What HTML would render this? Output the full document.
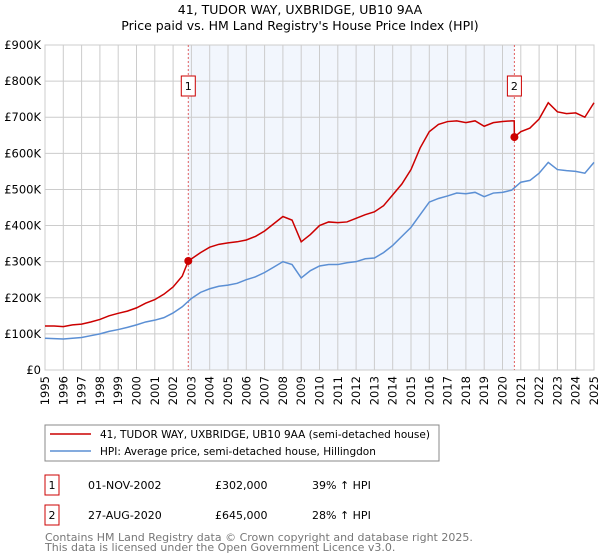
<!DOCTYPE html>
<html><head><meta charset="utf-8"><style>
body{margin:0;background:#fff;font-family:"DejaVu Sans","Liberation Sans",sans-serif;}
#wrap{position:relative;width:600px;height:560px;overflow:hidden}
svg text{font-family:"DejaVu Sans","Liberation Sans",sans-serif}
</style></head><body><div id="wrap">
<svg id="c" width="600" height="560"></svg>
</div>
<script>
const titleLines=["41, TUDOR WAY, UXBRIDGE, UB10 9AA","Price paid vs. HM Land Registry's House Price Index (HPI)"];
const yTicks=[0,100000,200000,300000,400000,500000,600000,700000,800000,900000];
const yTickLabels=["£0","£100K","£200K","£300K","£400K","£500K","£600K","£700K","£800K","£900K"];
const xTicks=[1995,1996,1997,1998,1999,2000,2001,2002,2003,2004,2005,2006,2007,2008,2009,2010,2011,2012,2013,2014,2015,2016,2017,2018,2019,2020,2021,2022,2023,2024,2025];
const hpiYears=[1995,1995.5,1996,1996.5,1997,1997.5,1998,1998.5,1999,1999.5,2000,2000.5,2001,2001.5,2002,2002.5,2003,2003.5,2004,2004.5,2005,2005.5,2006,2006.5,2007,2007.5,2008,2008.5,2009,2009.5,2010,2010.5,2011,2011.5,2012,2012.5,2013,2013.5,2014,2014.5,2015,2015.5,2016,2016.5,2017,2017.5,2018,2018.5,2019,2019.5,2020,2020.5,2021,2021.5,2022,2022.5,2023,2023.5,2024,2024.5,2025];
const hpiValues=[88,87,86,88,90,95,100,107,112,118,125,133,138,145,158,175,198,215,225,232,235,240,250,258,270,285,300,292,255,275,288,292,292,297,300,308,310,325,345,370,395,430,465,475,482,490,488,492,480,490,492,498,520,525,545,575,555,552,550,545,575];
const priceYears=[1995,1995.5,1996,1996.5,1997,1997.5,1998,1998.5,1999,1999.5,2000,2000.5,2001,2001.5,2002,2002.5,2002.83,2003.5,2004,2004.5,2005,2005.5,2006,2006.5,2007,2007.5,2008,2008.5,2009,2009.5,2010,2010.5,2011,2011.5,2012,2012.5,2013,2013.5,2014,2014.5,2015,2015.5,2016,2016.5,2017,2017.5,2018,2018.5,2019,2019.5,2020,2020.5,2020.64,2020.65,2021,2021.5,2022,2022.5,2023,2023.5,2024,2024.5,2025];
const priceValues=[122,122,120,125,127,133,140,150,157,163,172,185,195,210,230,260,302,325,340,348,352,355,360,370,385,405,425,415,355,375,400,410,408,410,420,430,438,455,485,515,555,615,660,680,688,690,685,690,675,685,688,690,690,645,660,670,695,740,715,710,712,700,740];
const saleYears=[2002.83,2020.65];
const saleValues=[302,645];
const saleLabels=["1","2"];

const svg=document.getElementById('c');
const NS="http://www.w3.org/2000/svg";
const X0=45,X1=594,Y0=370,Y1=45;
const xs=y=>X0+(y-1995)/30*(X1-X0);
const ys=v=>Y0-v/900000*(Y0-Y1);
function mk(tag,attrs,name,inter){const e=document.createElementNS(NS,tag);for(const k in attrs)e.setAttribute(k,attrs[k]);


svg.appendChild(e);return e;}
titleLines.forEach((t,i)=>{const e=mk('text',{x:300,y:14+i*16,'text-anchor':'middle','font-size':12.5,fill:'#000'},i?'chart-subtitle':'chart-title');e.textContent=t;});
mk('rect',{x:xs(saleYears[0]),y:Y1,width:xs(saleYears[1])-xs(saleYears[0]),height:Y0-Y1,fill:'#eef3fc',opacity:0.75},'shaded-ownership-period');
yTicks.forEach((v,i)=>{mk('line',{x1:X0,x2:X1,y1:ys(v),y2:ys(v),stroke:'#cccccc','stroke-width':1},'y-gridline');
const t=mk('text',{x:X0-4,y:ys(v)+4,'text-anchor':'end','font-size':11.5,fill:'#000'},'y-tick-label');t.textContent=yTickLabels[i];});
xTicks.forEach(y=>{mk('line',{x1:xs(y),x2:xs(y),y1:Y1,y2:Y0,stroke:'#cccccc','stroke-width':1},'x-gridline');
const t=mk('text',{x:0,y:0,'text-anchor':'end','font-size':11.5,fill:'#000',transform:`translate(${xs(y)+4},${Y0+6}) rotate(-90)`},'x-tick-label');t.textContent=y;});
mk('rect',{x:X0,y:Y1,width:X1-X0,height:Y0-Y1,fill:'none',stroke:'#cccccc'},'plot-border');
saleYears.forEach((y,i)=>mk('line',{x1:xs(y),x2:xs(y),y1:Y1,y2:Y0,stroke:'#e06060','stroke-width':1,'stroke-dasharray':'2,2'},'sale-marker-line-'+saleLabels[i]));
mk('polyline',{points:hpiYears.map((y,i)=>xs(y)+','+ys(hpiValues[i]*1000)).join(' '),fill:'none',stroke:'#5b8fd4','stroke-width':1.5},'hpi-line');
mk('polyline',{points:priceYears.map((y,i)=>xs(y)+','+ys(priceValues[i]*1000)).join(' '),fill:'none',stroke:'#cc0000','stroke-width':1.5},'price-paid-line');
saleYears.forEach((y,i)=>{mk('circle',{cx:xs(y),cy:ys(saleValues[i]*1000),r:4,fill:'#cc0000'},'sale-point-'+saleLabels[i]);
mk('rect',{x:xs(y)-7,y:76,width:14,height:20,fill:'#fff',stroke:'#cc0000'},'sale-label-box-'+saleLabels[i]);
const t=mk('text',{x:xs(y),y:90,'text-anchor':'middle','font-size':11,fill:'#000'},'sale-label-'+saleLabels[i]);t.textContent=saleLabels[i];});
// legend
mk('rect',{x:45,y:425,width:394,height:36,fill:'#fff',stroke:'#888'},'legend-box');
mk('line',{x1:50,x2:91,y1:434,y2:434,stroke:'#cc0000','stroke-width':1.5},'legend-price-swatch');
mk('line',{x1:50,x2:91,y1:451,y2:451,stroke:'#5b8fd4','stroke-width':1.5},'legend-hpi-swatch');
let t=mk('text',{x:100,y:438,'font-size':10.5},'legend-price-entry');t.textContent="41, TUDOR WAY, UXBRIDGE, UB10 9AA (semi-detached house)";
t=mk('text',{x:100,y:455,'font-size':10.5},'legend-hpi-entry');t.textContent="HPI: Average price, semi-detached house, Hillingdon";
const rows=[["1","01-NOV-2002","£302,000","39% ↑ HPI",475],["2","27-AUG-2020","£645,000","28% ↑ HPI",505]];
rows.forEach(r=>{mk('rect',{x:45,y:r[4],width:14,height:20,fill:'#fff',stroke:'#cc0000'},'table-marker-'+r[0]);
let e=mk('text',{x:52,y:r[4]+14,'text-anchor':'middle','font-size':11},'table-marker-label-'+r[0]);e.textContent=r[0];
e=mk('text',{x:88,y:r[4]+14,'font-size':11},'sale-date-'+r[0]);e.textContent=r[1];
e=mk('text',{x:215,y:r[4]+14,'font-size':11},'sale-price-'+r[0]);e.textContent=r[2];
e=mk('text',{x:312,y:r[4]+14,'font-size':11},'sale-hpi-diff-'+r[0]);e.textContent=r[3];});
t=mk('text',{x:45,y:541,'font-size':11,fill:'#777'},'footer-copyright');t.textContent="Contains HM Land Registry data © Crown copyright and database right 2025.";
t=mk('text',{x:45,y:551,'font-size':11,fill:'#777'},'footer-licence');t.textContent="This data is licensed under the Open Government Licence v3.0.";
</script></body></html>
